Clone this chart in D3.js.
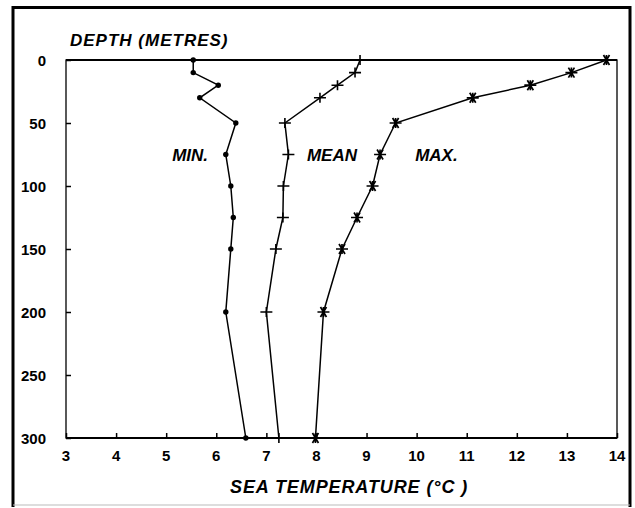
<!DOCTYPE html>
<html>
<head>
<meta charset="utf-8">
<script src="https://cdn.jsdelivr.net/npm/d3@7"></script>
<style>
  body { margin: 0; background: #fff; }
  svg text { font-family: "Liberation Sans", Arial, sans-serif; font-weight: bold; fill: #000; }
</style>
</head>
<body>
<svg width="635" height="508"></svg>
<script>
// --- Data ---
const depths = [0, 10, 20, 30, 50, 75, 100, 125, 150, 200, 300];
const minTemp  = [5.54, 5.54, 6.04, 5.67, 6.39, 6.19, 6.29, 6.34, 6.29, 6.19, 6.59];
const meanTemp = [8.87, 8.77, 8.42, 8.07, 7.37, 7.44, 7.34, 7.33, 7.19, 7.00, 7.25];
const maxTemp  = [13.79, 13.09, 12.27, 11.12, 9.58, 9.27, 9.12, 8.81, 8.51, 8.14, 7.98];
const xTicks = [3, 4, 5, 6, 7, 8, 9, 10, 11, 12, 13, 14];
const yTicks = [0, 50, 100, 150, 200, 250, 300];

const svg = d3.select("svg");

// --- Outer frame ---
svg.append("path")
  .attr("d", "M13,507 L13,7.5 L630,7.5 L630,507")
  .attr("fill", "none").attr("stroke", "#000").attr("stroke-width", 3);
svg.append("line")
  .attr("x1", 13).attr("x2", 630).attr("y1", 505).attr("y2", 505)
  .attr("stroke", "#bbb").attr("stroke-width", 1);

// --- Scales ---
const x = d3.scaleLinear().domain([3, 14]).range([66, 617]);
const y = d3.scaleLinear().domain([0, 300]).range([60, 438]);

// --- Plot box ---
svg.append("rect")
  .attr("x", x(3)).attr("y", y(0))
  .attr("width", x(14) - x(3)).attr("height", y(300) - y(0))
  .attr("fill", "none").attr("stroke", "#000").attr("stroke-width", 1.3);
svg.append("line")
  .attr("x1", x(3)).attr("x2", x(14)).attr("y1", y(0)).attr("y2", y(0))
  .attr("stroke", "#000").attr("stroke-width", 2.2);
svg.append("line")
  .attr("x1", x(3)).attr("x2", x(14)).attr("y1", y(300)).attr("y2", y(300))
  .attr("stroke", "#000").attr("stroke-width", 2);

// --- Axes ---
const xAxis = svg.append("g")
  .attr("transform", `translate(0,${y(300)})`)
  .call(d3.axisTop(x).tickValues(xTicks).tickSize(5).tickFormat(""));
xAxis.select(".domain").remove();
xAxis.selectAll("line").attr("stroke-width", 1.5);

svg.append("g").selectAll("text")
  .data(xTicks).enter().append("text")
    .attr("x", d => x(d)).attr("y", 461)
    .attr("text-anchor", "middle")
    .attr("font-size", "15px")
    .text(d => d);

const yAxis = svg.append("g")
  .attr("transform", `translate(${x(3)},0)`)
  .call(d3.axisRight(y).tickValues(yTicks).tickSize(5).tickFormat(""));
yAxis.select(".domain").remove();
yAxis.selectAll("line").attr("stroke-width", 1.5);

svg.append("g").selectAll("text")
  .data(yTicks).enter().append("text")
    .attr("x", 46).attr("y", d => y(d) + 5.5)
    .attr("text-anchor", "end")
    .attr("font-size", "15px")
    .text(d => d);

// --- Axis titles ---
svg.append("text")
  .attr("x", 70).attr("y", 46)
  .attr("font-size", "17px").attr("font-style", "italic")
  .attr("letter-spacing", "1")
  .text("DEPTH (METRES)");
svg.append("text")
  .attr("x", 230).attr("y", 493)
  .attr("font-size", "18px").attr("font-style", "italic")
  .attr("letter-spacing", "0.9")
  .text("SEA TEMPERATURE (°C )");

// --- Lines ---
const line = d3.line().x(d => x(d[0])).y(d => y(d[1]));
const series = [
  { name: "min",  vals: minTemp },
  { name: "mean", vals: meanTemp },
  { name: "max",  vals: maxTemp }
];
series.forEach(s => {
  const pts = s.vals.map((v, i) => [v, depths[i]]);
  svg.append("path")
    .datum(pts)
    .attr("d", line)
    .attr("fill", "none").attr("stroke", "#000").attr("stroke-width", 1.5);
  s.pts = pts;
});

// --- Markers ---
svg.append("g").selectAll("circle")
  .data(series[0].pts).enter().append("circle")
    .attr("cx", d => x(d[0])).attr("cy", d => y(d[1]))
    .attr("r", 2.7).attr("fill", "#000");

svg.append("g").selectAll("path")
  .data(series[1].pts).enter().append("path")
    .attr("transform", d => `translate(${x(d[0])},${y(d[1])})`)
    .attr("d", "M-6,0 L6,0 M0,-5 L0,5")
    .attr("stroke", "#000").attr("stroke-width", 1.6);

svg.append("g").selectAll("path")
  .data(series[2].pts).enter().append("path")
    .attr("transform", d => `translate(${x(d[0])},${y(d[1])})`)
    .attr("d", "M-6,0 L6,0 M-3,-5 L3,5 M-3,5 L3,-5 M0,-5 L0,5")
    .attr("stroke", "#000").attr("stroke-width", 1.7);

// --- Series labels ---
const labels = [
  { text: "MIN.", t: 5.12 },
  { text: "MEAN", t: 7.81 },
  { text: "MAX.", t: 9.97 }
];
svg.append("g").selectAll("text")
  .data(labels).enter().append("text")
    .attr("x", d => x(d.t)).attr("y", 161)
    .attr("font-size", "17px").attr("font-style", "italic")
    .text(d => d.text);
</script>
</body>
</html>
